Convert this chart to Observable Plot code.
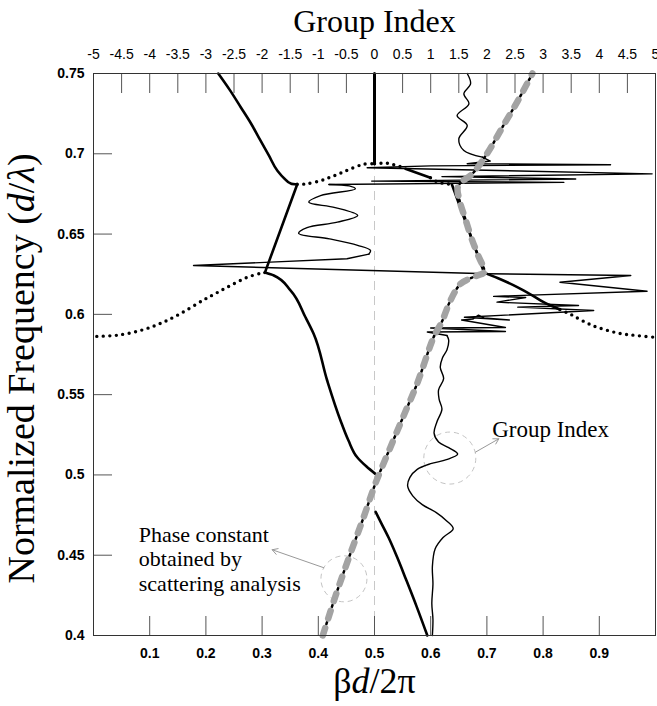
<!DOCTYPE html>
<html><head><meta charset="utf-8">
<script src="https://cdn.jsdelivr.net/npm/d3@7"></script>
<script src="https://cdn.jsdelivr.net/npm/@observablehq/plot@0.6"></script>
<style>body{margin:0;background:#fff}</style>
</head><body><div id="chart"></div>
<script>
// ---------- tick values ----------
const betaTicks = [0.1,0.2,0.3,0.4,0.5,0.6,0.7,0.8,0.9];
const freqTicks = [0.4,0.45,0.5,0.55,0.6,0.65,0.7,0.75];
const freqTickMarks = [0.45,0.5,0.55,0.6,0.65,0.7];
const giTicks = [-5,-4.5,-4,-3.5,-3,-2.5,-2,-1.5,-1,-0.5,0,0.5,1,1.5,2,2.5,3,3.5,4,4.5,5];
const giTickMarks = [-4.5,-4,-3.5,-3,-2.5,-2,-1.5,-1,-0.5,0,0.5,1,1.5,2,2.5,3,3.5,4,4.5];

// ---------- band diagram (beta d / 2pi , normalized frequency) ----------
const bandA = [[0.594,0.400],[0.575,0.418],[0.556,0.435],[0.540,0.449],[0.525,0.461],[0.512,0.470],[0.502,0.477]];
const bandB = [[0.502,0.5005],[0.4858,0.5052],[0.4692,0.511],[0.4537,0.5214],[0.4395,0.5339],[0.4158,0.5588],[0.3915,0.5881],[0.3772,0.5982],[0.3505,0.6149],[0.3209,0.6242],[0.305,0.626]];
const bandC = [[0.305,0.626],[0.297,0.6255],[0.273,0.623],[0.244,0.618],[0.220,0.6135],[0.196,0.609],[0.155,0.6005],[0.120,0.5945],[0.084,0.590],[0.042,0.587],[0.007,0.5863],[0.0,0.5862]];
const bandD = [[0.305,0.626],[0.3624,0.6809]];
const bandE = [[0.3624,0.681],[0.377,0.6812],[0.404,0.6832],[0.422,0.6855],[0.440,0.688],[0.457,0.6905],[0.481,0.6935],[0.5,0.6938]];
const bandF = [[0.3624,0.6809],[0.352,0.6813],[0.340,0.6845],[0.327,0.6896],[0.312,0.699],[0.297,0.7083],[0.280,0.719],[0.262,0.729],[0.243,0.7395],[0.222,0.75]];
const bandG = [[0.5,0.6938],[0.5,0.75]];
const bandH1 = [[0.5,0.6938],[0.520,0.6944],[0.534,0.6932],[0.546,0.6921],[0.555,0.6907]];
const bandH2 = [[0.555,0.6907],[0.5996,0.6851]];
const bandH3 = [[0.5996,0.6851],[0.6116,0.6823],[0.626,0.6813],[0.6376,0.681]];
const bandI = [[0.6376,0.681],[0.695,0.626]];
const bandJ1 = [[0.695,0.626],[0.720,0.6225],[0.754,0.617],[0.780,0.612],[0.801,0.6076],[0.830,0.603]];
const bandJ2 = [[0.830,0.603],[0.849,0.600],[0.870,0.596],[0.896,0.592],[0.938,0.588],[0.961,0.587],[0.997,0.5858],[1.0,0.5858]];

// phase constant obtained by scattering analysis
const scatter = [[0.408,0.400],[0.430,0.424],[0.455,0.449],[0.480,0.473],[0.502,0.495],[0.528,0.517],[0.552,0.537],[0.576,0.557],[0.6055,0.586],[0.620,0.5955],[0.635,0.6086],[0.653,0.619],[0.668,0.622],[0.683,0.6242],[0.695,0.6263],[0.684,0.637],[0.674,0.646],[0.662,0.659],[0.652,0.670],[0.648,0.679],[0.655,0.6825],[0.674,0.6875],[0.700,0.700],[0.730,0.718],[0.755,0.733],[0.781,0.75]];

// ---------- group index (group index , normalized frequency) ----------
const giLower = [[1.03,0.400],[1.04,0.410],[1.02,0.420],[1.04,0.432],[1.03,0.443],[1.08,0.454],[1.22,0.461],[1.40,0.4665],[1.28,0.4715],[1.10,0.4765],[0.85,0.4815],[0.68,0.4870],[0.59,0.4930],[0.63,0.4985],[0.76,0.5035],[1.00,0.5070],[1.28,0.5095],[1.48,0.5130],[1.32,0.5170],[1.14,0.5205],[1.06,0.5260],[1.11,0.5330],[1.20,0.5410],[1.15,0.5470],[1.14,0.5530],[1.23,0.5600],[1.17,0.5670],[1.21,0.5730],[1.29,0.5780],[1.32,0.5840],[1.29,0.5868]];
const giChaos = [[1.29,0.5868],[0.94,0.5890],[2.33,0.5893],[1.00,0.5915],[2.33,0.5918],[1.55,0.5965],[1.75,0.5970],[1.85,0.5995],[1.95,0.5978],[2.40,0.5965],[1.60,0.5982],[3.90,0.6024],[2.55,0.6045],[3.63,0.6055],[2.18,0.6076],[2.69,0.6105],[2.12,0.6112],[4.85,0.6144],[3.30,0.6200],[4.56,0.6242],[2.00,0.6253],[-3.22,0.6304],[-1.85,0.6325],[-0.49,0.6346],[-0.10,0.6375]];
const giOsc = [[-0.10,0.6375],[-0.07,0.6398],[-0.30,0.6430],[-0.80,0.6470],[-1.35,0.6505],[-1.20,0.6540],[-0.66,0.6574],[-0.30,0.6616],[-0.70,0.6665],[-1.17,0.6699],[-0.96,0.6740],[-0.34,0.6782],[-0.45,0.6800],[-0.81,0.6809]];
const giSpikes = [[-0.81,0.6809],[3.37,0.6822],[-0.05,0.6830],[3.58,0.6843],[1.20,0.6858],[4.94,0.6875],[-0.13,0.6913],[1.00,0.6925],[4.20,0.6932],[1.65,0.6938],[2.06,0.6955],[1.92,0.6979]];
const giTop = [[1.92,0.6979],[1.59,0.7020],[1.50,0.7093],[1.65,0.7176],[1.47,0.7238],[1.68,0.7311],[1.59,0.7374],[1.71,0.7436],[1.65,0.7500]];

// annotations
const phaseNote = {x:0.0806, y:0.448, cx:0.4456, cy:0.4353, ax1:0.4098, ay1:0.4422, ax2:0.318, ay2:0.4534};
const groupNote = {x:0.7094, y:0.5283, cx:0.634, cy:0.5105, ax1:0.6797, ay1:0.5142, ax2:0.7212, ay2:0.5225};

// ---------- helpers ----------
const pts = a => a.map(([x,y]) => ({x, y}));
const gx = g => 0.5 + g/10;               // group index -> shared x scale
const gpts = a => a.map(([g,y]) => ({x: gx(g), y}));
const giFmt = d => String(Math.round((d - 0.5) * 20) / 2);

const serif = "Liberation Serif, Times New Roman, serif";
const sans = "Liberation Sans, Arial, sans-serif";
const solid = {x:"x", y:"y", stroke:"#000", strokeWidth:2.6};
const dotted = {x:"x", y:"y", stroke:"#000", strokeWidth:3.4, strokeDasharray:"0 6.5", strokeLinecap:"round"};
const thin = {x:"x", y:"y", stroke:"#000", strokeWidth:1.4};

const chart = Plot.plot({
  width: 657, height: 706,
  marginLeft: 93, marginRight: 2, marginTop: 73, marginBottom: 71,
  x: {domain: [0, 1]},
  y: {domain: [0.4, 0.75]},
  style: {background: "#fff", fontFamily: sans, color: "#000"},
  marks: [
    // dashed guide at beta = 0.5
    Plot.ruleX([0.5], {y1: 0.4, y2: 0.6938, stroke: "#c8c8c8", strokeWidth: 1, strokeDasharray: "9 6"}),
    // inner tick marks
    Plot.ruleX(betaTicks, {insetTop: 543, stroke: "#555"}),
    Plot.ruleX(giTickMarks.map(gx), {insetBottom: 542, stroke: "#555"}),
    Plot.ruleY(freqTickMarks, {insetRight: 543, stroke: "#555"}),
    // annotation circles and arrows
    Plot.dot([phaseNote], {x: "cx", y: "cy", r: 23, stroke: "#c4c4c4", strokeDasharray: "5 4", fill: "none", strokeWidth: 1}),
    Plot.dot([groupNote], {x: "cx", y: "cy", r: 26, stroke: "#c4c4c4", strokeDasharray: "5 4", fill: "none", strokeWidth: 1}),
    Plot.arrow([phaseNote, groupNote], {x1: "ax1", y1: "ay1", x2: "ax2", y2: "ay2", stroke: "#999", strokeWidth: 1, headLength: 9}),
    // group index curve
    Plot.line(gpts(giLower), {...thin, curve: "catmull-rom"}),
    Plot.line(gpts(giChaos), thin),
    Plot.line(gpts(giOsc), {...thin, curve: "catmull-rom"}),
    Plot.line(gpts(giSpikes), thin),
    Plot.line(gpts(giTop), {...thin, curve: "catmull-rom"}),
    // band diagram
    Plot.line(pts(bandA), {...solid, curve: "monotone-y"}),
    Plot.line(pts(bandB), {...solid, curve: "monotone-y"}),
    Plot.line(pts(bandC), {...dotted, curve: "catmull-rom"}),
    Plot.line(pts(bandD), solid),
    Plot.line(pts(bandE), {...dotted, curve: "catmull-rom"}),
    Plot.line(pts(bandF), {...solid, curve: "monotone-y"}),
    Plot.line(pts(bandG), {...solid, strokeWidth: 3}),
    Plot.line(pts(bandH1), dotted),
    Plot.line(pts(bandH2), solid),
    Plot.line(pts(bandH3), dotted),
    Plot.line(pts(bandI), solid),
    Plot.line(pts(bandJ1), {...solid, curve: "catmull-rom"}),
    Plot.line(pts(bandJ2), {...dotted, curve: "catmull-rom"}),
    // scattering-analysis phase constant: black dotted under grey dashes
    Plot.line(pts(scatter), {x: "x", y: "y", stroke: "#000", strokeWidth: 2.5, strokeDasharray: "2 16", strokeDashoffset: 6, curve: "catmull-rom"}),
    Plot.line(pts(scatter), {x: "x", y: "y", stroke: "#a3a3a3", strokeWidth: 6.5, strokeDasharray: "8 10", strokeLinecap: "round", curve: "catmull-rom"}),
    Plot.frame({stroke: "#333"}),
    // axes labels
    Plot.axisY({anchor: "left", ticks: freqTicks, tickSize: 0, tickPadding: 9, tickFormat: d => String(d), fontSize: 14, fontWeight: "bold", label: null}),
    Plot.axisX({anchor: "bottom", ticks: betaTicks, tickSize: 0, tickPadding: 13, tickFormat: d => String(d), fontSize: 14, fontWeight: "bold", label: null}),
    Plot.axisX({anchor: "top", ticks: giTicks.map(gx), tickSize: 0, tickPadding: 15, tickFormat: giFmt, fontSize: 14, label: null}),
    // annotation texts
    Plot.text([phaseNote], {x: "x", y: "y", text: () => "Phase constant\nobtained by\nscattering analysis", textAnchor: "start", lineAnchor: "middle", lineHeight: 1.13, fontSize: 22, fontFamily: serif, fill: "#000"}),
    Plot.text([groupNote], {x: "x", y: "y", text: () => "Group Index", textAnchor: "start", lineAnchor: "middle", fontSize: 23, fontFamily: serif, fill: "#000"}),
    // titles
    Plot.text(["Group Index"], {frameAnchor: "top", dy: -42, lineAnchor: "bottom", fontSize: 32, fontFamily: serif, fill: "#000"}),
    Plot.text(["βd/2π"], {frameAnchor: "bottom", dy: 57, fontSize: 36, fontFamily: serif, fill: "#000"}),
    Plot.text(["Normalized Frequency (d/λ)"], {frameAnchor: "left", dx: -72, dy: 14, rotate: -90, textAnchor: "middle", fontSize: 38, fontFamily: serif, fill: "#000"})
  ]
});
document.getElementById("chart").append(chart);

// italic parts of the axis titles
d3.select(chart).selectAll("text").each(function() {
  const t = this.textContent;
  let parts = null;
  if (t === "βd/2π") parts = [["β", false], ["d", true], ["/2π", false]];
  if (t === "Normalized Frequency (d/λ)") parts = [["Normalized Frequency (", false], ["d", true], ["/", false], ["λ", true], [")", false]];
  if (!parts) return;
  const sel = d3.select(this);
  sel.text(null);
  for (const [s, it] of parts) sel.append("tspan").attr("font-style", it ? "italic" : "normal").text(s);
});
</script>
</body></html>
